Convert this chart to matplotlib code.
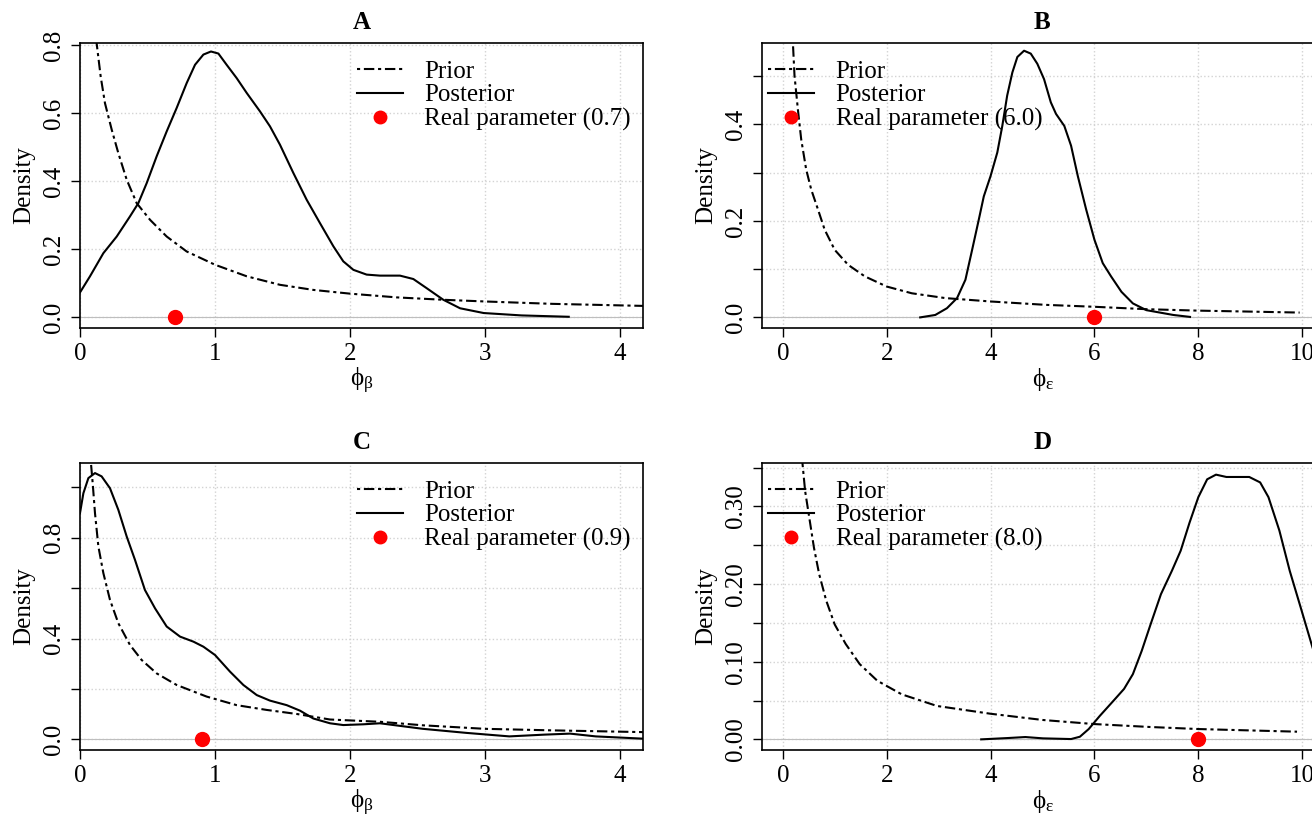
import matplotlib
matplotlib.use("Agg")
import matplotlib.pyplot as plt
from matplotlib.lines import Line2D

plt.rcParams['font.family'] = ['Liberation Serif', 'DejaVu Serif']
plt.rcParams['mathtext.fontset'] = 'custom'
plt.rcParams['mathtext.rm'] = 'Liberation Serif'
plt.rcParams['mathtext.it'] = 'Liberation Serif'
plt.rcParams['mathtext.bf'] = 'Liberation Serif:bold'

# ---- panel A (phi_beta, real 0.7)
prior_a_x = [0.118, 0.123, 0.153, 0.185, 0.235, 0.284, 0.346, 0.42, 0.519, 0.642, 0.79, 1.0, 1.235, 1.481,
             1.728, 2.0, 2.346, 2.69, 3.0, 3.5, 4.17]
prior_a_y = [0.9, 0.806, 0.708, 0.629, 0.551, 0.482, 0.404, 0.335, 0.286, 0.237, 0.193, 0.154, 0.12, 0.095,
             0.08, 0.069, 0.058, 0.051, 0.046, 0.039, 0.033]
post_a_x = [0, 0.074, 0.173, 0.272, 0.37, 0.432, 0.494, 0.568, 0.642, 0.716, 0.79, 0.852, 0.914, 0.97,
            1.025, 1.086, 1.16, 1.235, 1.333, 1.407, 1.481, 1.58, 1.679, 1.778, 1.877, 1.95, 2.025, 2.123,
            2.222, 2.37, 2.469, 2.568, 2.691, 2.815, 2.99, 3.27, 3.62]
post_a_y = [0.0725, 0.12, 0.188, 0.237, 0.296, 0.335, 0.394, 0.473, 0.546, 0.615, 0.688, 0.742, 0.772, 0.781,
            0.775, 0.742, 0.703, 0.659, 0.605, 0.561, 0.507, 0.424, 0.345, 0.276, 0.208, 0.164, 0.139, 0.125,
            0.122, 0.122, 0.112, 0.085, 0.051, 0.026, 0.012, 0.005, 0.001]
real_a = 0.7

# ---- panel B (phi_eps, real 6.0)
prior_b_x = [0.19, 0.194, 0.226, 0.29, 0.355, 0.45, 0.548, 0.677, 0.806, 1.0, 1.258, 1.58, 2.0, 2.484, 3.13,
             4.0, 5.06, 6.0, 7.0, 8.0, 9.0, 9.95]
prior_b_y = [0.62, 0.571, 0.501, 0.432, 0.369, 0.307, 0.265, 0.224, 0.182, 0.14, 0.109, 0.085, 0.064, 0.05,
             0.04, 0.033, 0.026, 0.022, 0.017, 0.014, 0.012, 0.010]
post_b_x = [2.645, 2.935, 3.16, 3.355, 3.516, 3.645, 3.774, 3.87, 4.0, 4.13, 4.226, 4.32, 4.42, 4.516, 4.645,
            4.774, 4.9, 5.03, 5.16, 5.26, 5.42, 5.55, 5.68, 5.84, 6.0, 6.16, 6.32, 6.52, 6.74, 7.0, 7.26,
            7.52, 7.84]
post_b_y = [0.0, 0.005, 0.019, 0.04, 0.078, 0.14, 0.203, 0.251, 0.293, 0.342, 0.397, 0.46, 0.508, 0.54, 0.553,
            0.547, 0.526, 0.494, 0.446, 0.422, 0.397, 0.356, 0.293, 0.224, 0.161, 0.1125, 0.085, 0.053, 0.029,
            0.015, 0.01, 0.005, 0.001]
real_b = 6.0

# ---- panel C (phi_beta, real 0.9)
prior_c_x = [0.078, 0.081, 0.094, 0.111, 0.136, 0.173, 0.222, 0.284, 0.37, 0.457, 0.568, 0.716, 0.938, 1.16,
             1.383, 1.605, 1.852, 2.222, 2.54, 3.0, 3.49, 4.17]
prior_c_y = [1.2, 1.097, 1.017, 0.898, 0.766, 0.66, 0.554, 0.461, 0.375, 0.315, 0.262, 0.216, 0.17, 0.136,
             0.117, 0.101, 0.079, 0.07, 0.056, 0.042, 0.036, 0.029]
post_c_x = [0, 0.025, 0.062, 0.111, 0.16, 0.222, 0.284, 0.346, 0.407, 0.481, 0.556, 0.642, 0.741, 0.84, 0.914,
            1.0, 1.111, 1.21, 1.309, 1.407, 1.531, 1.63, 1.728, 1.852, 1.95, 2.099, 2.222, 2.54, 2.86, 3.18,
            3.44, 3.63, 3.82, 4.17]
post_c_y = [0.898, 0.977, 1.037, 1.057, 1.044, 0.997, 0.911, 0.805, 0.713, 0.593, 0.52, 0.448, 0.408, 0.388,
            0.368, 0.335, 0.269, 0.216, 0.176, 0.154, 0.136, 0.114, 0.083, 0.064, 0.057, 0.06, 0.064, 0.042,
            0.026, 0.012, 0.019, 0.023, 0.012, 0.003]
real_c = 0.9

# ---- panel D (phi_eps, real 8.0)
prior_d_x = [0.37, 0.38, 0.43, 0.5, 0.6, 0.7, 0.835, 1.0, 1.21, 1.48, 1.82, 2.29, 2.97, 4.0, 5.0, 6.0, 7.05,
             8.0, 9.9]
prior_d_y = [0.4, 0.355, 0.32, 0.29, 0.247, 0.213, 0.179, 0.148, 0.123, 0.097, 0.0755, 0.058, 0.043, 0.033,
             0.025, 0.0197, 0.016, 0.0133, 0.0099]
post_d_x = [3.82, 4.33, 4.67, 5.01, 5.55, 5.72, 5.89, 6.1, 6.37, 6.57, 6.74, 6.91, 7.08, 7.28, 7.49, 7.66,
            7.83, 8.0, 8.17, 8.34, 8.54, 8.98, 9.19, 9.35, 9.56, 9.76, 9.97, 10.2, 10.45]
post_d_y = [0.0, 0.0017, 0.003, 0.0013, 0.0004, 0.0034, 0.0133, 0.03, 0.05, 0.065, 0.084, 0.114, 0.148, 0.187,
            0.217, 0.243, 0.279, 0.312, 0.335, 0.341, 0.338, 0.338, 0.331, 0.312, 0.269, 0.217, 0.17, 0.118, 0.07]
real_d = 8.0

FS = 18
W, H = 1312, 814
DASH = (1.5, 1.8, 5, 1.8)
fig = plt.figure(figsize=(W / 100, H / 100), dpi=100)


def px_axes(left, right, top, bottom):
    return fig.add_axes([left / W, 1 - bottom / H, (right - left) / W, (bottom - top) / H])


def panel(ax, title, px, py, qx, qy, real, xlim, ylim, xticks, yticks, ylabels, xlab, leg_x):
    ax.set_xlim(xlim)
    ax.set_ylim(ylim)
    ax.set_xticks(xticks)
    ax.set_xticklabels([str(t) for t in xticks])
    ax.set_yticks(yticks)
    ax.set_yticklabels(ylabels, rotation=90, va='center')
    ax.grid(True, color='#d3d3d3', linestyle=':', linewidth=1)
    ax.set_axisbelow(True)
    ax.axhline(0, color='#bebebe', lw=0.8, zorder=1)
    ax.plot(px, py, color='black', lw=1.5, dashes=DASH)
    ax.plot(qx, qy, color='black', lw=1.5)
    ax.plot([real], [0], 'o', color='red', ms=10, zorder=5)
    for s in ax.spines.values():
        s.set_linewidth(1.2)
    ax.tick_params(labelsize=FS, length=6.5, width=1, direction='out', pad=4)
    ax.set_title(title, fontsize=FS, fontweight='bold', pad=10)
    ax.set_xlabel(xlab, fontsize=FS, labelpad=1)
    ax.set_ylabel('Density', fontsize=FS, labelpad=6)
    handles = [Line2D([], [], color='black', lw=1.5, dashes=DASH),
               Line2D([], [], color='black', lw=1.5),
               Line2D([], [], ls='none', marker='o', color='red', ms=9)]
    labels = ['Prior', 'Posterior', 'Real parameter (%.1f)' % real]
    ax.legend(handles, labels, loc='upper left', bbox_to_anchor=(leg_x, 0.94), frameon=False,
              fontsize=FS, handlelength=1.85, handletextpad=0.85, labelspacing=0.05,
              borderaxespad=0, borderpad=0)


lab_beta = r'$\phi_{\beta}$'
lab_eps = r'$\phi_{\varepsilon}$'

ax_a = px_axes(80, 643, 43, 328)
panel(ax_a, 'A', prior_a_x, prior_a_y, post_a_x, post_a_y, real_a, (0, 4.17), (-0.032, 0.806),
      [0, 1, 2, 3, 4], [0, 0.2, 0.4, 0.6, 0.8], ['0.0', '0.2', '0.4', '0.6', '0.8'], lab_beta, 0.492)

ax_b = px_axes(762, 1323, 43, 328)
panel(ax_b, 'B', prior_b_x, prior_b_y, post_b_x, post_b_y, real_b, (-0.4, 10.4), (-0.022, 0.569),
      [0, 2, 4, 6, 8, 10], [0, 0.1, 0.2, 0.3, 0.4, 0.5], ['0.0', '', '0.2', '', '0.4', ''], lab_eps, 0.011)

ax_c = px_axes(80, 643, 463, 750)
panel(ax_c, 'C', prior_c_x, prior_c_y, post_c_x, post_c_y, real_c, (0, 4.17), (-0.042, 1.097),
      [0, 1, 2, 3, 4], [0, 0.2, 0.4, 0.6, 0.8, 1.0], ['0.0', '', '0.4', '', '0.8', ''], lab_beta, 0.492)

ax_d = px_axes(762, 1323, 463, 750)
panel(ax_d, 'D', prior_d_x, prior_d_y, post_d_x, post_d_y, real_d, (-0.4, 10.4), (-0.0137, 0.356),
      [0, 2, 4, 6, 8, 10], [0, 0.05, 0.1, 0.15, 0.2, 0.25, 0.3, 0.35],
      ['0.00', '', '0.10', '', '0.20', '', '0.30', ''], lab_eps, 0.011)

fig.savefig('out.png', dpi=100)
